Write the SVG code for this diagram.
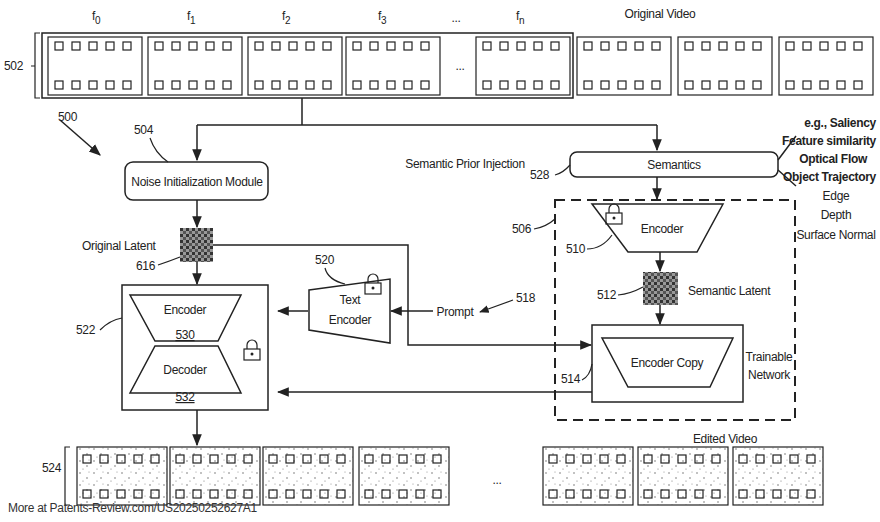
<svg xmlns="http://www.w3.org/2000/svg" xmlns:xlink="http://www.w3.org/1999/xlink" width="880" height="522" viewBox="0 0 880 522">
<style>
text{font-family:"Liberation Sans",Arial,sans-serif;font-size:12px;fill:#222;letter-spacing:-0.3px}
.b{font-weight:bold}
.s{fill:none;stroke:#222;stroke-width:1.5}
.t{fill:none;stroke:#222;stroke-width:1.2}
.d{fill:none;stroke:#222;stroke-width:2;stroke-dasharray:10 6}
</style>
<defs>
<marker id="a" viewBox="0 0 10 10" refX="9" refY="5" markerWidth="8" markerHeight="8" orient="auto-start-reverse"><path d="M0,1 L10,5 L0,9 z" fill="#222"/></marker>
<pattern id="dots" width="14" height="12" patternUnits="userSpaceOnUse"><circle cx="3" cy="2" r="0.7" fill="#555"/><circle cx="10" cy="7" r="0.7" fill="#555"/><circle cx="6" cy="10" r="0.6" fill="#777"/><circle cx="12" cy="1" r="0.5" fill="#777"/></pattern>
<pattern id="chk" width="6" height="6" patternUnits="userSpaceOnUse"><rect width="6" height="6" fill="#999"/><rect width="3" height="3" fill="#333"/><rect x="3" y="3" width="3" height="3" fill="#555"/></pattern>
<symbol id="fr" viewBox="0 0 94 58" width="94" height="58" overflow="visible">
<rect x="0" y="0" width="94" height="58" class="t" fill="#fff"/>
<g class="t"><rect x="7" y="5" width="8" height="8"/><rect x="24" y="5" width="8" height="8"/><rect x="41" y="5" width="8" height="8"/><rect x="58" y="5" width="8" height="8"/><rect x="75" y="5" width="8" height="8"/>
<rect x="7" y="44" width="8" height="8"/><rect x="24" y="44" width="8" height="8"/><rect x="41" y="44" width="8" height="8"/><rect x="58" y="44" width="8" height="8"/><rect x="75" y="44" width="8" height="8"/></g>
</symbol>
<symbol id="fe" viewBox="0 0 90 58" width="90" height="58" overflow="visible">
<rect x="0" y="0" width="90" height="58" fill="url(#dots)" stroke="#222" stroke-width="1.2"/>
<g class="t"><rect x="6" y="8" width="8" height="8"/><rect x="23" y="8" width="8" height="8"/><rect x="40" y="8" width="8" height="8"/><rect x="57" y="8" width="8" height="8"/><rect x="74" y="8" width="8" height="8"/>
<rect x="6" y="43" width="8" height="8"/><rect x="23" y="43" width="8" height="8"/><rect x="40" y="43" width="8" height="8"/><rect x="57" y="43" width="8" height="8"/><rect x="74" y="43" width="8" height="8"/></g>
</symbol>
<symbol id="lock" overflow="visible"><path d="M-5,0 v-4 a5,5 0 0 1 10,0 v4" class="t"/><rect x="-8" y="0" width="16" height="11" class="t" fill="#fff"/><circle cx="0" cy="5" r="1.5" fill="#222"/></symbol>
</defs>

<g id="original-video">
<rect x="42" y="33" width="531" height="65" class="s"/>
<use href="#fr" x="48" y="37"/><use href="#fr" x="148" y="37"/><use href="#fr" x="248" y="37"/><use href="#fr" x="346" y="37"/><use href="#fr" x="476" y="37"/><use href="#fr" x="577" y="37"/><use href="#fr" x="678" y="37"/><use href="#fr" x="779" y="37"/>
<text x="460" y="70" text-anchor="middle">...</text>
<text x="92" y="20" font-size="13">f<tspan font-size="10" dy="4">0</tspan></text>
<text x="187" y="20" font-size="13">f<tspan font-size="10" dy="4">1</tspan></text>
<text x="282" y="20" font-size="13">f<tspan font-size="10" dy="4">2</tspan></text>
<text x="378" y="20" font-size="13">f<tspan font-size="10" dy="4">3</tspan></text>
<text x="456" y="22" text-anchor="middle">...</text>
<text x="516" y="20" font-size="13">f<tspan font-size="10" dy="4">n</tspan></text>
<text x="660" y="18" text-anchor="middle">Original Video</text>
<path d="M40,33 h-5 v65 h5 M35,66 l-4,0" class="t"/>
<text x="4" y="70">502</text>
</g>

<g id="noise-init">
<rect x="125" y="162" width="143" height="38" rx="8" class="s" fill="#fff"/>
<text x="197" y="186" text-anchor="middle">Noise Initialization Module</text>
<text x="134" y="134">504</text><path d="M150,138 q5,15 18,24" class="t"/>
</g>

<g id="original-latent">
<rect x="180" y="228" width="33" height="34" fill="url(#chk)"/>
<text x="82" y="250">Original Latent</text>
<text x="136" y="270">616</text><path d="M158,265 q12,-4 22,-8" class="t"/>
</g>

<g id="autoencoder">
<rect x="122" y="285" width="146" height="125" class="s" fill="#fff"/>
<path d="M130,295 H241 L218,341 H155 Z" class="s"/>
<path d="M155,346 H218 L241,393 H130 Z" class="s"/>
<text x="185" y="314" text-anchor="middle">Encoder</text>
<text x="185" y="339" text-anchor="middle" text-decoration="underline">530</text>
<text x="185" y="374" text-anchor="middle">Decoder</text>
<text x="185" y="401" text-anchor="middle" text-decoration="underline">532</text>
<use href="#lock" x="252" y="349"/>
<text x="76" y="334">522</text><path d="M100,330 q10,-10 22,-12" class="t"/>
</g>

<g id="text-encoder">
<path d="M309,290 L390,279 V343 L309,330 Z" class="s" fill="#fff"/>
<text x="350" y="304" text-anchor="middle">Text</text>
<text x="350" y="324" text-anchor="middle">Encoder</text>
<use href="#lock" x="373" y="283"/>
<text x="315" y="264">520</text><path d="M325,268 q3,12 20,16" class="t"/>
</g>

<g id="prompt">
<text x="455" y="316" text-anchor="middle">Prompt</text>
<text x="516" y="302">518</text><path d="M513,300 l-33,12" class="t" marker-end="url(#a)"/>
</g>

<g id="semantics">
<rect x="570" y="152" width="208" height="25" rx="7" class="s" fill="#fff"/>
<text x="674" y="169" text-anchor="middle">Semantics</text>
<text x="465" y="168" text-anchor="middle">Semantic Prior Injection</text>
<text x="530" y="179">528</text><path d="M555,175 q8,-2 15,-10" class="t"/>
<path d="M778,160 L796,136 M778,170 L796,186" class="s"/>
<g text-anchor="end">
<text x="876" y="127" class="b">e.g., Saliency</text>
<text x="876" y="145" class="b">Feature similarity</text>
<text x="867" y="163" class="b">Optical Flow</text>
<text x="876" y="181" class="b">Object Trajectory</text>
</g>
<g text-anchor="middle">
<text x="836" y="200">Edge</text>
<text x="836" y="219">Depth</text>
<text x="836" y="239">Surface Normal</text>
</g>
</g>

<g id="control-net">
<rect x="555" y="200" width="240" height="220" class="d"/>
<text x="512" y="233">506</text><path d="M534,229 q12,-2 21,-10" class="t"/>
<path d="M592,204 H723 L697,252 H628 Z" class="s" fill="#fff"/>
<text x="662" y="233" text-anchor="middle">Encoder</text>
<use href="#lock" x="614" y="213"/>
<text x="566" y="253">510</text><path d="M587,249 q15,0 25,-14" class="t"/>
<rect x="643" y="272" width="35" height="33" fill="url(#chk)"/>
<text x="688" y="295">Semantic Latent</text>
<text x="597" y="299">512</text><path d="M618,295 q12,-1 25,-8" class="t"/>
<rect x="592" y="325" width="151" height="77" class="s" fill="#fff"/>
<path d="M602,338 H733 L710,387 H628 Z" class="s"/>
<text x="667" y="367" text-anchor="middle">Encoder Copy</text>
<text x="769" y="361" text-anchor="middle" letter-spacing="-0.6">Trainable</text>
<text x="769" y="379" text-anchor="middle" letter-spacing="-0.6">Network</text>
<text x="561" y="383">514</text><path d="M582,380 q8,-4 10,-16" class="t"/>
</g>

<g id="edited-video">
<use href="#fe" x="77" y="447"/><use href="#fe" x="170" y="447"/><use href="#fe" x="263" y="447"/><use href="#fe" x="359" y="447"/><use href="#fe" x="543" y="447"/><use href="#fe" x="638" y="447"/><use href="#fe" x="733" y="447"/>
<text x="497" y="484" text-anchor="middle">...</text>
<text x="725" y="443" text-anchor="middle">Edited Video</text>
<path d="M70,447 h-5 v58 h5" class="t"/>
<text x="42" y="472">524</text>
</g>

<g id="connectors">
<path d="M302,98 V125 M197,125 H657" class="s"/>
<path d="M197,125 V160" class="s" marker-end="url(#a)"/>
<path d="M657,125 V150" class="s" marker-end="url(#a)"/>
<path d="M197,200 V227" class="s" marker-end="url(#a)"/>
<path d="M197,262 V284" class="s" marker-end="url(#a)"/>
<path d="M213,245 H408 V345 H591" class="s" marker-end="url(#a)"/>
<path d="M308,311 H278" class="s" marker-end="url(#a)"/>
<path d="M433,311 H391" class="s" marker-end="url(#a)"/>
<path d="M592,392 H278" class="s" marker-end="url(#a)"/>
<path d="M197,410 V445" class="s" marker-end="url(#a)"/>
<path d="M657,177 V199" class="s" marker-end="url(#a)"/>
<path d="M660,252 V271" class="s" marker-end="url(#a)"/>
<path d="M660,305 V324" class="s" marker-end="url(#a)"/>
<path d="M60,120 L100,155" class="s" marker-end="url(#a)"/>
</g>
<text x="58" y="121">500</text>
<text x="8" y="512" font-size="17" letter-spacing="0" style="fill:#333">More at Patents-Review.com/US20250252627A1</text>
</svg>
